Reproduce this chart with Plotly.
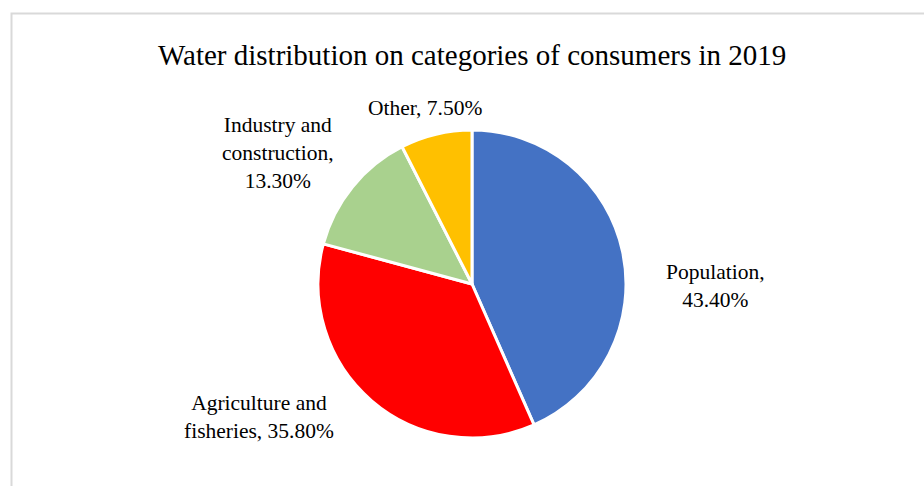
import plotly.graph_objects as go

# Water consumption shares by consumer category, 2019
categories = ["Population", "Agriculture and fisheries", "Industry and construction", "Other"]
shares = [43.4, 35.8, 13.3, 7.5]
slice_colors = ["#4472C4", "#FF0000", "#A9D18E", "#FFC000"]

# Label text shown next to each slice
label_texts = [
    "Population,<br>43.40%",
    "Agriculture and<br>fisheries, 35.80%",
    "Industry and<br>construction,<br>13.30%",
    "Other, 7.50%",
]
# Label anchor positions in pixel space (x, y from top)
label_pos = [(715, 286), (259, 417), (278, 153), (425, 108)]

W, H = 924, 486
SERIF = "Liberation Serif"

cx, cy, r = 472, 284, 154

fig = go.Figure(
    go.Pie(
        labels=categories,
        values=shares,
        sort=False,
        direction="clockwise",
        rotation=0,
        marker=dict(colors=slice_colors, line=dict(color="white", width=3)),
        textinfo="none",
        hoverinfo="label+percent",
        showlegend=False,
        domain=dict(x=[(cx - r) / W, (cx + r) / W], y=[1 - (cy + r) / H, 1 - (cy - r) / H]),
    )
)

for txt, (px, py) in zip(label_texts, label_pos):
    fig.add_annotation(
        x=px / W, y=1 - py / H, xref="paper", yref="paper",
        text=txt, showarrow=False, align="center",
        xanchor="center", yanchor="middle",
        font=dict(family=SERIF, size=21.5, color="#000000"),
    )

fig.add_annotation(
    x=472 / W, y=1 - 55 / H, xref="paper", yref="paper",
    text="Water distribution on categories of consumers in 2019",
    showarrow=False, xanchor="center", yanchor="middle",
    font=dict(family=SERIF, size=29, color="#000000"),
)

# Chart frame
fig.add_shape(
    type="rect", xref="paper", yref="paper",
    x0=11.5 / W, x1=(W + 20) / W, y0=-0.1, y1=1 - 13.5 / H,
    line=dict(color="#D9D9D9", width=2), fillcolor="rgba(0,0,0,0)",
)

fig.update_layout(
    width=W, height=H,
    margin=dict(l=0, r=0, t=0, b=0),
    paper_bgcolor="white", plot_bgcolor="white",
)

fig.write_html("out.html")
